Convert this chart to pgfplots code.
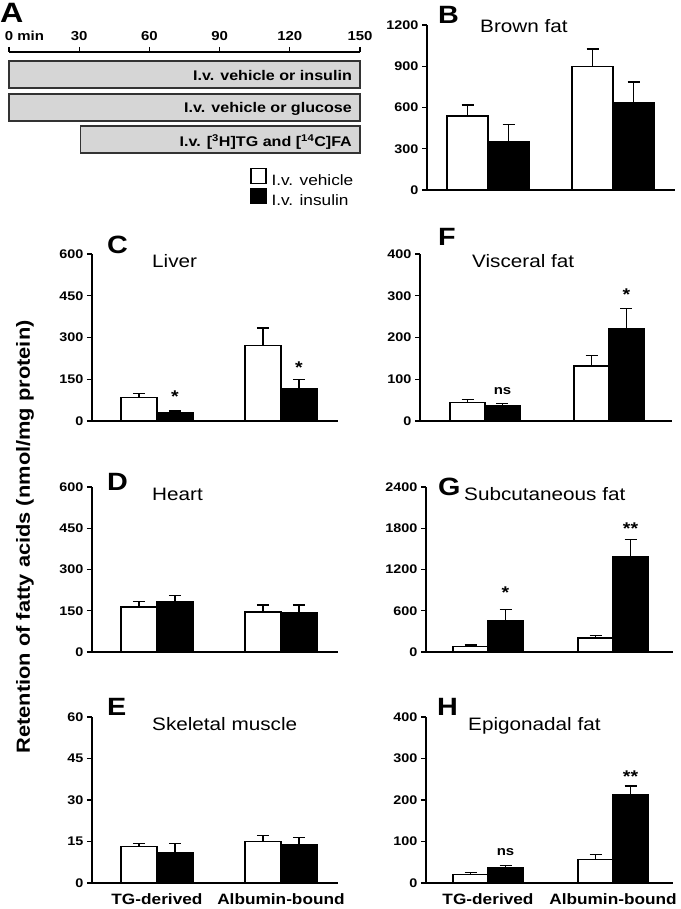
\documentclass[border=0pt]{standalone}
\usepackage{fontspec}
\setmainfont{Liberation Sans}[FakeStretch=1.15]
\usepackage{pgfplots}
\pgfplotsset{compat=1.18}
\definecolor{boxgray}{HTML}{D6D6D6}
\definecolor{boxedge}{HTML}{333333}
\newcommand{\fs}[1]{\fontsize{#1}{#1}\selectfont}
\pgfplotsset{
  panel/.style={
    scale only axis, anchor=south west, clip=false,
    axis x line=bottom, axis y line=left,
    axis line style={-, line width=1.3pt, black},
    ymin=0, xtick={0,1}, xticklabels={},
    tick align=outside, major tick length=5pt,
    major tick style={line width=1.3pt, black},
    major x tick style={draw=none},
    tick label style={font=\fs{12.5}\bfseries},
    /pgf/number format/assume math mode=true,
    /pgf/number format/1000 sep={},
    scaled y ticks=false,
  },
  bottomlabels/.style={xticklabels={TG-derived,Albumin-bound},
    xticklabel style={font=\fs{15}\bfseries, yshift=-2pt}},
  barbase/.style={ybar, bar shift=0pt, draw=black, line width=1.3pt,
    error bars/y dir=plus, error bars/y explicit, error bars/error mark=|,
    error bars/error bar style={line width=1.3pt, black},
    error bars/error mark options={line width=1.3pt, mark size=6pt, black}},
  vbar/.style={barbase, fill=white},
  ibar/.style={barbase, fill=black},
}
\tikzset{
  starlab/.style={anchor=base, font=\fs{17}\bfseries, inner sep=0pt},
  nslab/.style={anchor=base, font=\fs{13}\bfseries, inner sep=0pt},
}
\begin{document}
\begin{tikzpicture}
\path[use as bounding box] (0,0) rectangle (680pt,-909pt);

% ---------- Panel A: timeline ----------
\begin{axis}[scale only axis, anchor=south west, at={(9pt,-153pt)},
  width=351pt, height=101pt, xmin=0, xmax=150, ymin=0, ymax=101,
  axis x line=top, axis y line=none, clip=false,
  axis line style={-, line width=1.3pt, black},
  xtick={0,30,60,90,120,150},
  xticklabels={\makebox[0pt][l]{\hspace{-4pt}0 min},30,60,90,120,150},
  tick align=outside, major tick length=5pt,
  major tick style={line width=1.3pt, black},
  xticklabel style={font=\fs{13}\bfseries, yshift=3pt},
  legend style={at={(axis cs:103,-15)}, anchor=north west, draw=none, fill=none,
    font=\fs{15}, inner sep=0pt, row sep=0pt,
    nodes={inner xsep=5pt, inner ysep=1pt}},
  legend cell align=left,
  legend image code/.code={\draw[#1, line width=1.3pt] (0pt,-3pt) rectangle (15pt,12pt);},
]
\addlegendimage{draw=black, fill=white}
\addlegendentry{I.v. vehicle}
\addlegendimage{draw=black, fill=black}
\addlegendentry{I.v. insulin}
\addplot[forget plot, draw=boxedge, fill=boxgray, line width=1.3pt] coordinates {(0,65) (150,65) (150,92) (0,92)} -- cycle;
\addplot[forget plot, draw=boxedge, fill=boxgray, line width=1.3pt] coordinates {(0,32) (150,32) (150,59) (0,59)} -- cycle;
\addplot[forget plot, draw=boxedge, fill=boxgray, line width=1.3pt] coordinates {(30.5,0) (150,0) (150,27) (30.5,27)} -- cycle;
\node[anchor=base east, inner sep=0pt, font=\fs{14}\bfseries] at (axis cs:146.6,72) {I.v. vehicle or insulin};
\node[anchor=base east, inner sep=0pt, font=\fs{14}\bfseries] at (axis cs:146.6,40) {I.v. vehicle or glucose};
\node[anchor=base east, inner sep=0pt, font=\fs{14}\bfseries] at (axis cs:146.6,6) {I.v. [\textsuperscript{3}H]TG and [\textsuperscript{14}C]FA};
\end{axis}

% ---------- Panel B ----------
\begin{axis}[panel, at={(427pt,-190pt)}, width=248pt, height=165pt,
  xmin=-0.488, xmax=1.496, ymax=1200, ytick={0,300,...,1200}]
\addplot[vbar, bar width=41pt] coordinates {(-0.164,538) +- (0,80) (0.836,900) +- (0,125)};
\addplot[ibar, bar width=41pt] coordinates {(0.164,348) +- (0,130) (1.164,638) +- (0,147)};
\end{axis}

% ---------- Panel C ----------
\begin{axis}[panel, at={(92pt,-421pt)}, width=246pt, height=167pt,
  xmin=-0.524, xmax=1.46, ymax=600, ytick={0,150,...,600}]
\addplot[vbar, bar width=36pt] coordinates {(-0.145,85) +- (0,15) (0.855,271) +- (0,63)};
\addplot[ibar, bar width=36pt] coordinates {(0.145,30) +- (0,6) (1.145,115) +- (0,33)};
\node[starlab] at (axis cs:0.145,66) {*};
\node[starlab] at (axis cs:1.145,170) {*};
\end{axis}

% ---------- Panel F ----------
\begin{axis}[panel, at={(420pt,-421pt)}, width=252pt, height=167pt,
  xmin=-0.524, xmax=1.508, ymax=400, ytick={0,100,...,400}]
\addplot[vbar, bar width=35pt] coordinates {(-0.141,44) +- (0,8) (0.859,132) +- (0,25)};
\addplot[ibar, bar width=35pt] coordinates {(0.141,36) +- (0,6) (1.141,222) +- (0,47)};
\node[nslab] at (axis cs:0.141,63) {ns};
\node[starlab] at (axis cs:1.141,289) {*};
\end{axis}

% ---------- Panel D ----------
\begin{axis}[panel, at={(92pt,-652pt)}, width=246pt, height=165pt,
  xmin=-0.524, xmax=1.46, ymax=600, ytick={0,150,...,600}]
\addplot[vbar, bar width=36pt] coordinates {(-0.145,164) +- (0,20) (0.855,145) +- (0,26)};
\addplot[ibar, bar width=36pt] coordinates {(0.145,184) +- (0,21) (1.145,142) +- (0,29)};
\end{axis}

% ---------- Panel G ----------
\begin{axis}[panel, at={(426pt,-652pt)}, width=247pt, height=165pt,
  xmin=-0.496, xmax=1.48, ymax=2400, ytick={0,600,...,2400}]
\addplot[vbar, bar width=35pt] coordinates {(-0.14,82) +- (0,20) (0.86,204) +- (0,34)};
\addplot[ibar, bar width=35pt] coordinates {(0.14,451) +- (0,165) (1.14,1387) +- (0,252)};
\node[starlab] at (axis cs:0.14,775) {*};
\node[starlab] at (axis cs:1.14,1705) {**};
\end{axis}

% ---------- Panel E ----------
\begin{axis}[panel, bottomlabels, at={(92pt,-883pt)}, width=246pt, height=166pt,
  xmin=-0.524, xmax=1.46, ymax=60, ytick={0,15,...,60}]
\addplot[vbar, bar width=36pt] coordinates {(-0.145,13.1) +- (0,1.2) (0.855,15.1) +- (0,2.1)};
\addplot[ibar, bar width=36pt] coordinates {(0.145,11.0) +- (0,3.3) (1.145,13.9) +- (0,2.5)};
\end{axis}

% ---------- Panel H ----------
\begin{axis}[panel, bottomlabels, at={(426pt,-883pt)}, width=247pt, height=166pt,
  xmin=-0.496, xmax=1.48, ymax=400, ytick={0,100,...,400}]
\addplot[vbar, bar width=35pt] coordinates {(-0.14,21) +- (0,5) (0.86,56.5) +- (0,11.5)};
\addplot[ibar, bar width=35pt] coordinates {(0.14,37) +- (0,6) (1.14,212) +- (0,22)};
\node[nslab] at (axis cs:0.14,66) {ns};
\node[starlab] at (axis cs:1.14,241) {**};
\end{axis}

% ---------- Letters and titles ----------
\node[anchor=base west, inner sep=0pt, font=\fs{28}\bfseries] at (0pt,-23pt) {A};
\node[anchor=base west, inner sep=0pt, font=\fs{25}\bfseries] at (438pt,-24pt) {B};
\node[anchor=base west, inner sep=0pt, font=\fs{25}\bfseries] at (107pt,-253pt) {C};
\node[anchor=base west, inner sep=0pt, font=\fs{25}\bfseries] at (107pt,-490pt) {D};
\node[anchor=base west, inner sep=0pt, font=\fs{25}\bfseries] at (107pt,-715pt) {E};
\node[anchor=base west, inner sep=0pt, font=\fs{25}\bfseries] at (438pt,-245pt) {F};
\node[anchor=base west, inner sep=0pt, font=\fs{25}\bfseries] at (438pt,-495pt) {G};
\node[anchor=base west, inner sep=0pt, font=\fs{25}\bfseries] at (437pt,-715pt) {H};

\node[anchor=base west, inner sep=0pt, font=\fs{18}] at (480pt,-33pt) {Brown fat};
\node[anchor=base west, inner sep=0pt, font=\fs{18}] at (152pt,-267pt) {Liver};
\node[anchor=base west, inner sep=0pt, font=\fs{18}] at (472pt,-267pt) {Visceral fat};
\node[anchor=base west, inner sep=0pt, font=\fs{18}] at (152pt,-500pt) {Heart};
\node[anchor=base west, inner sep=0pt, font=\fs{18}] at (464pt,-500pt) {Subcutaneous fat};
\node[anchor=base west, inner sep=0pt, font=\fs{18}] at (152pt,-730pt) {Skeletal muscle};
\node[anchor=base west, inner sep=0pt, font=\fs{18}] at (468pt,-730pt) {Epigonadal fat};

\node[rotate=90, inner sep=0pt, font=\fs{19}\bfseries] at (25pt,-537pt) {Retention of fatty acids (nmol/mg protein)};
\end{tikzpicture}
\end{document}
